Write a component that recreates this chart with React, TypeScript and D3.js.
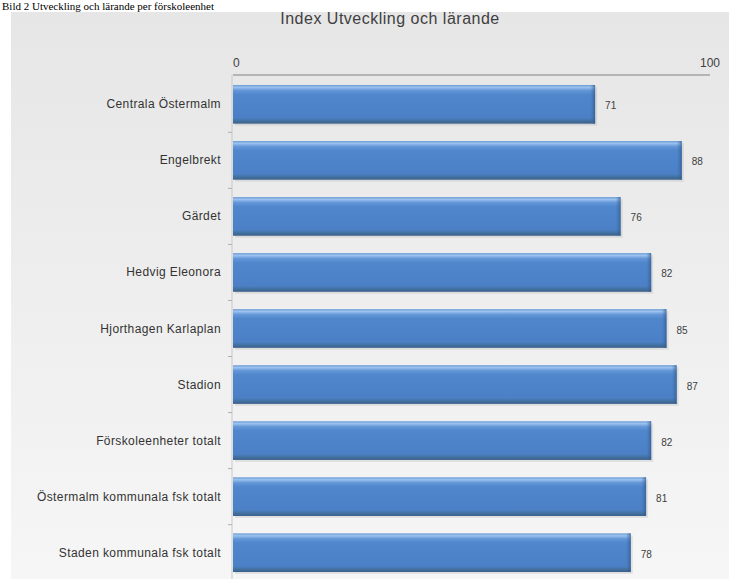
import React from "react";
import * as d3 from "d3";

const categories = [
  "Centrala Östermalm",
  "Engelbrekt",
  "Gärdet",
  "Hedvig Eleonora",
  "Hjorthagen Karlaplan",
  "Stadion",
  "Förskoleenheter totalt",
  "Östermalm kommunala fsk totalt",
  "Staden kommunala fsk totalt",
];
const values = [71, 88, 76, 82, 85, 87, 82, 81, 78];
const tickValues = [0, 100];
const title = "Index Utveckling och lärande";
const caption = "Bild 2 Utveckling och lärande per förskoleenhet";

const W = 729;
const H = 579;

export default function App() {
  const left = 233;
  const barScale = d3.scaleLinear().domain([0, 100]).range([left, 743]);
  const axisScale = d3.scaleLinear().domain([0, 100]).range([left, 710]);
  const y = d3
    .scaleBand<string>()
    .domain(categories)
    .range([76, 581])
    .paddingInner(0.31)
    .paddingOuter(0.16);
  const font = "'Liberation Sans', Arial, sans-serif";
  const step = y.step();

  return (
    <svg
      width={W}
      height={H}
      style={{ position: "absolute", left: 0, top: 0 }}
      fontFamily={font}
    >
      <defs>
        <linearGradient id="bg" x1="0" y1="0" x2="0" y2="1">
          <stop offset="0%" stopColor="#e6e6e6" />
          <stop offset="100%" stopColor="#f6f6f6" />
        </linearGradient>
        <linearGradient id="bar" x1="0" y1="0" x2="0" y2="1">
          <stop offset="0%" stopColor="#6a9bd8" />
          <stop offset="6%" stopColor="#9cc2ee" />
          <stop offset="14%" stopColor="#6497d8" />
          <stop offset="25%" stopColor="#4f86cc" />
          <stop offset="85%" stopColor="#4b80c6" />
          <stop offset="93%" stopColor="#42709f" />
          <stop offset="100%" stopColor="#3a5f8a" />
        </linearGradient>
        <linearGradient id="barEnd" x1="0" y1="0" x2="1" y2="0">
          <stop offset="0%" stopColor="#3f6fa8" stopOpacity="0" />
          <stop offset="100%" stopColor="#2f5585" stopOpacity="0.7" />
        </linearGradient>
      </defs>
      <rect x={0} y={0} width={W} height={H} fill="#ffffff" />
      <text
        x={2}
        y={10}
        fontFamily="'Liberation Serif', 'Times New Roman', serif"
        fontSize={11}
        fill="#000"
      >
        {caption}
      </text>
      <rect x={11} y={12} width={W - 11} height={H - 12} fill="url(#bg)" />
      <text
        x={390}
        y={24}
        textAnchor="middle"
        fontSize={16}
        letterSpacing={0.5}
        fill="#404040"
      >
        {title}
      </text>
      {/* top axis */}
      <line
        x1={axisScale(0)}
        x2={axisScale(100)}
        y1={75}
        y2={75}
        stroke="#b4b4b4"
        strokeWidth={2}
      />
      {tickValues.map((t) => (
        <text
          key={t}
          x={axisScale(t)}
          y={67}
          textAnchor={t === 0 ? "start" : "middle"}
          fontSize={12}
          fill="#404040"
        >
          {t}
        </text>
      ))}
      {/* left axis */}
      <line
        x1={left - 1}
        x2={left - 1}
        y1={75}
        y2={H}
        stroke="#c8c8c8"
        strokeWidth={1}
      />
      {categories.slice(1).map((c) => (
        <line
          key={"t" + c}
          x1={left - 5}
          x2={left - 1}
          y1={(y(c) as number) - (step - y.bandwidth()) / 2}
          y2={(y(c) as number) - (step - y.bandwidth()) / 2}
          stroke="#b0b0b0"
        />
      ))}
      {categories.map((c, i) => {
        const yy = y(c) as number;
        const bw = y.bandwidth();
        const x1 = barScale(values[i]);
        return (
          <g key={c}>
            <rect
              x={left + 2}
              y={yy + 2}
              width={x1 - left}
              height={bw}
              fill="#000"
              opacity={0.08}
            />
            <rect
              x={left}
              y={yy}
              width={x1 - left}
              height={bw}
              fill="url(#bar)"
            />
            <rect
              x={x1 - 5}
              y={yy}
              width={5}
              height={bw}
              fill="url(#barEnd)"
            />
            <text
              x={left - 12}
              y={yy + bw / 2 + 4}
              textAnchor="end"
              fontSize={12}
              letterSpacing={0.4}
              fill="#333"
            >
              {c}
            </text>
            <text
              x={x1 + 10}
              y={yy + bw / 2 + 5}
              fontSize={10}
              fill="#404040"
            >
              {values[i]}
            </text>
          </g>
        );
      })}
    </svg>
  );
}
